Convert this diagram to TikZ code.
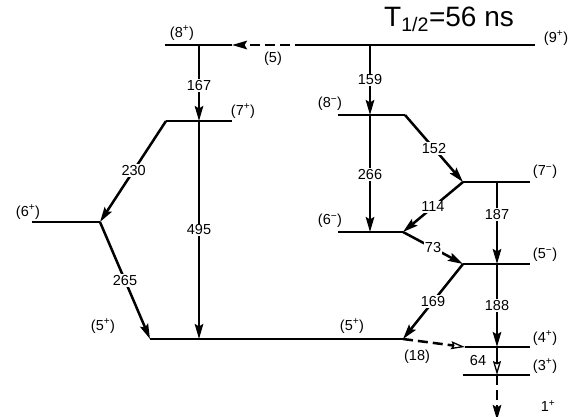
\documentclass[tikz,border=0pt]{standalone}
\usepackage{fontspec}
\setmainfont{Liberation Sans}
\usetikzlibrary{arrows.meta}
\begin{document}
\begin{tikzpicture}[x=1pt,y=-1pt,
  lev/.style={line width=2pt},
  gam/.style={line width=2.5pt,-{Stealth[length=15pt,width=8.5pt,inset=2.5pt]}},
  gamo/.style={line width=2.5pt,-{Stealth[open,length=14pt,width=8pt,inset=2pt,line width=1.3pt]}},
  dsh/.style={dash pattern=on 10pt off 5pt},
  en/.style={fill=white,inner sep=1.2pt,font=\fontsize{14.5}{16}\selectfont},
  sp/.style={inner sep=0pt,font=\fontsize{14.5}{16}\selectfont}]
\useasboundingbox (0,0) rectangle (584,416);
% level end points
\coordinate (L9a) at (305,45);  \coordinate (L9b) at (535,45);
\coordinate (L8pa) at (165,45); \coordinate (L8pb) at (232,45);
\coordinate (L7pa) at (166,121); \coordinate (L7pb) at (232,121);
\coordinate (L6pa) at (32,222); \coordinate (L6pb) at (100,222);
\coordinate (L5pa) at (150,339); \coordinate (L5pb) at (403,339);
\coordinate (L8ma) at (338,115); \coordinate (L8mb) at (405,115);
\coordinate (L7ma) at (463,182); \coordinate (L7mb) at (530,182);
\coordinate (L6ma) at (338,232); \coordinate (L6mb) at (403,232);
\coordinate (L5ma) at (463,264); \coordinate (L5mb) at (530,264);
\coordinate (L4a) at (465,347); \coordinate (L4b) at (530,347);
\coordinate (L3a) at (463,375); \coordinate (L3b) at (530,375);
% transition points on levels
\coordinate (a167) at (199,45);  \coordinate (b167) at (199,121);
\coordinate (b495) at (199,339);
\coordinate (a159) at (370,45);  \coordinate (b159) at (370,115);
\coordinate (b266) at (370,232);
\coordinate (a187) at (497,182); \coordinate (b187) at (497,264);
\coordinate (b188) at (497,347); \coordinate (b64) at (497,375);
\coordinate (g1) at (497,420);
% levels
\draw[lev] (L9a) -- (L9b);
\draw[lev] (L8pa) -- (L8pb);
\draw[lev] (L7pa) -- (L7pb);
\draw[lev] (L6pa) -- (L6pb);
\draw[lev] (L5pa) -- (L5pb);
\draw[lev] (L8ma) -- (L8mb);
\draw[lev] (L7ma) -- (L7mb);
\draw[lev] (L6ma) -- (L6mb);
\draw[lev] (L5ma) -- (L5mb);
\draw[lev] (L4a) -- (L4b);
\draw[lev] (L3a) -- (L3b);
% transitions
\draw[gam,dsh] (L9a) -- (L8pb);
\draw[gam] (a167) -- node[en,pos=0.53] (e167) {167} (b167);
\draw[gam] (L7pa) -- node[en,pos=0.49] (e230) {230} (L6pb);
\draw[gam] (L6pb) -- node[en,pos=0.5] (e265) {265} (L5pa);
\draw[gam] (b167) -- node[en,pos=0.5] (e495) {495} (b495);
\draw[gam] (a159) -- node[en,pos=0.5] (e159) {159} (b159);
\draw[gam] (b159) -- node[en,pos=0.51] (e266) {266} (b266);
\draw[gam] (L8mb) -- node[en,pos=0.5] (e152) {152} (L7ma);
\draw[gam] (L7ma) -- node[en,pos=0.5] (e114) {114} (L6mb);
\draw[gam] (a187) -- node[en,pos=0.4] (e187) {187} (b187);
\draw[gam] (L6mb) -- node[en,pos=0.5] (e73) {73} (L5ma);
\draw[gam] (L5ma) -- node[en,pos=0.5] (e169) {169} (L5pb);
\draw[gam] (b187) -- node[en,pos=0.5] (e188) {188} (b188);
\draw[gamo,dsh] (L5pb) -- (L4a);
\draw[gamo] (b188) -- (b64);
\draw[gam,dsh] (b64) -- (g1);
% transition labels without gaps
\node[sp] (e5) at (273,59) {(5)};
\node[sp] (e18) at (417,357) {(18)};
\node[sp] (e64) at (478,361) {64};
% spin labels
\node[sp] (s9) at (556,38) {(9\textsuperscript{+})};
\node[sp] (s8p) at (182,33) {(8\textsuperscript{+})};
\node[sp] (s7p) at (243,111) {(7\textsuperscript{+})};
\node[sp] (s6p) at (28,212) {(6\textsuperscript{+})};
\node[sp] (s5pl) at (103,326) {(5\textsuperscript{+})};
\node[sp] (s5pr) at (352,326) {(5\textsuperscript{+})};
\node[sp] (s8m) at (330,104) {(8\textsuperscript{−})};
\node[sp] (s7m) at (545,172) {(7\textsuperscript{−})};
\node[sp] (s6m) at (330,221) {(6\textsuperscript{−})};
\node[sp] (s5m) at (545,255) {(5\textsuperscript{−})};
\node[sp] (s4) at (545,338) {(4\textsuperscript{+})};
\node[sp] (s3) at (545,366) {(3\textsuperscript{+})};
\node[sp] (s1) at (548,406) {1\textsuperscript{+}};
% title
\node[inner sep=0pt,anchor=base west,font=\fontsize{28}{30}\selectfont] (title) at (384,26) {T\textsubscript{1/2}=56 ns};
\end{tikzpicture}
\end{document}
